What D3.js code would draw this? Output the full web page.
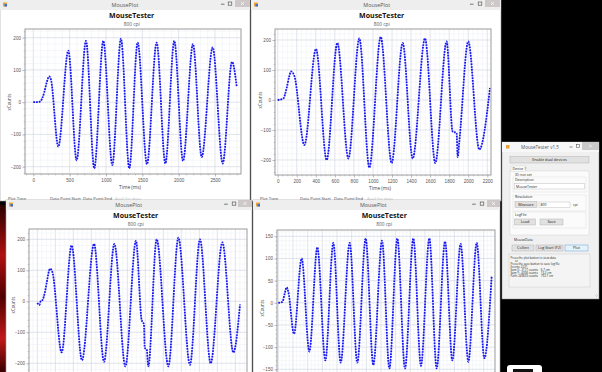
<!DOCTYPE html>
<html><head><meta charset="utf-8">
<script src="https://cdn.jsdelivr.net/npm/d3@7"></script>
<style>
html,body{margin:0;padding:0;background:#000;overflow:hidden}
svg{display:block;font-family:"Open Sans","DejaVu Sans",sans-serif}
</style></head><body>
<svg id="c" width="602" height="372"></svg>
<script>
// ---------- data ----------
const windowTitle = "MousePlot";
const chartTitle = "MouseTester";
const chartSubtitle = "800 cpi";
const xAxisTitle = "Time (ms)";
const yAxisTitle = "xCounts";

const plot1Time   = [0,46,92,150,183,220,243,344,482,596,725,839,963,1087,1206,1321,1436,1564,1697,1817,1940,2060,2197,2317,2468,2606,2734,2798];
const plot1Counts = [0,0,2,30,60,80,70,-138,160,-180,190,-205,190,-195,197,-205,185,-192,185,-190,190,-182,180,-170,170,-190,125,50];
const plot1XTicks = [0,500,1000,1500,2000,2500];
const plot1YTicks = [-200,-100,0,100,200];

const plot2Time   = [0,59,94,122,140,175,280,402,514,626,742,857,962,1081,1196,1312,1417,1546,1654,1773,1836,1878,1889,1906,2000,2116,2228];
const plot2Counts = [0,5,40,80,95,80,-150,170,-200,190,-195,205,-225,210,-210,190,-195,205,-210,195,-105,-110,-190,-140,195,-165,40];
const plot2XTicks = [0,200,400,600,800,1000,1200,1400,1600,1800,2000,2200];
const plot2YTicks = [-200,-100,0,100,200];

const plot3Time   = [0,22,37,59,85,104,141,167,270,381,496,630,741,856,978,1096,1159,1185,1193,1215,1233,1326,1456,1567,1696,1807,1926,2056,2178,2252];
const plot3Counts = [-5,-12,0,5,30,60,105,95,-165,180,-190,185,-195,185,-210,195,-60,-75,-150,-155,-210,200,-210,205,-205,200,-200,190,-165,-10];
const plot3YTicks = [-200,-100,0,100,200];

const plot4Time   = [0,55,86,114,136,214,318,423,532,641,750,850,973,1077,1191,1295,1414,1514,1623,1727,1841,1945,2059,2159,2273,2373,2486,2591,2705,2809,2909];
const plot4Counts = [0,2,20,35,25,-70,100,-110,125,-130,135,-135,135,-135,145,-140,140,-148,145,-148,145,-142,145,-148,138,-130,133,-133,135,-125,60];
const plot4YTicks = [-150,-100,-50,0,50,100,150];

const bottomLabels = ["Plot Type","Data Point Start","Data Point End","Avail for data"];
const logLines = ["Press the plot button to view data","      or","Press the save button to save log file","Events: 2221","Sum X: -2117 counts    6.7 cm","Sum Y: -4094 counts    13.2 cm","Path: 249605 counts    792.7 cm"];

// ---------- drawing ----------
const svg = d3.select("#c");
const defs = svg.append("defs");

// wallpaper at the left edge
const wg = defs.append("linearGradient").attr("id","wall").attr("x1",0).attr("y1",0).attr("x2",0).attr("y2",1);
wg.append("stop").attr("offset","0%").attr("stop-color","#2a0000");
wg.append("stop").attr("offset","30%").attr("stop-color","#b01010");
wg.append("stop").attr("offset","55%").attr("stop-color","#500000");
wg.append("stop").attr("offset","80%").attr("stop-color","#c01818");
wg.append("stop").attr("offset","100%").attr("stop-color","#3a0000");
svg.append("rect").attr("x",0).attr("y",205).attr("width",8).attr("height",167).attr("fill","url(#wall)");

function drawWindow(x, y, w, h, opts) {
  const g = svg.append("g");
  g.append("rect").attr("x",x).attr("y",y).attr("width",w).attr("height",h)
    .attr("fill","#fff").attr("stroke","#9a9a9a").attr("stroke-width",0.6);
  g.append("rect").attr("x",x).attr("y",y).attr("width",w).attr("height",10).attr("fill","#eeeeee");
  g.append("rect").attr("x",x+3).attr("y",y+2.5).attr("width",4).attr("height",4).attr("fill","#e8a33a");
  g.append("rect").attr("x",x+4.5).attr("y",y+4).attr("width",2.5).attr("height",2.5).attr("fill","#3a6fd8");
  g.append("text").attr("x",opts.titleX).attr("y",y+6.8).attr("text-anchor","middle")
    .attr("font-size",5.4).attr("fill","#555").text(windowTitle);
  g.append("line").attr("x1",opts.minX-1.8).attr("x2",opts.minX+1.8).attr("y1",y+4.2).attr("y2",y+4.2).attr("stroke","#444").attr("stroke-width",0.7);
  g.append("rect").attr("x",opts.maxX-1.8).attr("y",y+2).attr("width",3.6).attr("height",3.2).attr("fill","none").attr("stroke","#444").attr("stroke-width",0.6);
  g.append("rect").attr("x",opts.closeX).attr("y",y).attr("width",opts.closeW).attr("height",7).attr("fill","#cdc7c7");
  const cx = opts.closeX + opts.closeW/2, cy = y+3.5;
  g.append("path").attr("d",`M${cx-1.6},${cy-1.6}L${cx+1.6},${cy+1.6}M${cx+1.6},${cy-1.6}L${cx-1.6},${cy+1.6}`).attr("stroke","#fff").attr("stroke-width",0.7);
  g.append("text").attr("x",opts.chartX).attr("y",y+18.4).attr("text-anchor","middle")
    .attr("font-size",7).attr("font-weight",700).attr("fill","#111").text(chartTitle);
  g.append("text").attr("x",opts.chartX).attr("y",y+25.8).attr("text-anchor","middle")
    .attr("font-size",4.8).attr("fill","#555").text(chartSubtitle);
  return g;
}

function drawBottomStrip(xs, y) {
  bottomLabels.forEach((t,i) => {
    svg.append("text").attr("x",xs[i]).attr("y",y).attr("font-size",4.2)
      .attr("fill", i===3 ? "#c8c8c8" : "#444").text(t);
  });
}

function drawPlot(p) {
  const g = svg.append("g");
  const x = d3.scaleLinear().domain(p.xDom).range(p.xRng);
  const y = d3.scaleLinear().domain(p.yDom).range(p.yRng);
  const clipId = "clip" + p.id;
  defs.append("clipPath").attr("id",clipId).append("rect")
    .attr("x",p.fx0).attr("y",p.fy0).attr("width",p.fx1-p.fx0).attr("height",p.fy1-p.fy0);
  g.append("rect").attr("x",p.fx0).attr("y",p.fy0).attr("width",p.fx1-p.fx0).attr("height",p.fy1-p.fy0).attr("fill","#fff");

  const tMin = x.invert(p.fx0), tMax = x.invert(p.fx1);
  const vMin = y.invert(p.fy1), vMax = y.invert(p.fy0);
  const minorX = d3.range(Math.ceil(tMin/p.xMinor)*p.xMinor, tMax, p.xMinor);
  const minorY = d3.range(Math.ceil(vMin/p.yMinor)*p.yMinor, vMax, p.yMinor);
  const grid = g.append("g").attr("clip-path",`url(#${clipId})`);
  const isMaj = (v, step) => Math.abs(v/step - Math.round(v/step)) < 1e-6;
  grid.selectAll(".gx").data(minorX).join("line")
    .attr("x1",d=>x(d)).attr("x2",d=>x(d)).attr("y1",p.fy0).attr("y2",p.fy1)
    .attr("stroke",d=>isMaj(d,p.xMajor)?"#d3d8e4":"#eceef5").attr("stroke-width",d=>isMaj(d,p.xMajor)?0.7:0.5);
  grid.selectAll(".gy").data(minorY).join("line")
    .attr("y1",d=>y(d)).attr("y2",d=>y(d)).attr("x1",p.fx0).attr("x2",p.fx1)
    .attr("stroke",d=>isMaj(d,p.yMajor)?"#d3d8e4":"#eceef5").attr("stroke-width",d=>isMaj(d,p.yMajor)?0.7:0.5);

  const styleAxis = sel => {
    sel.select(".domain").remove();
    sel.selectAll("line").attr("stroke","#888").attr("stroke-width",0.5);
    sel.selectAll("text").attr("font-size",4.6).attr("fill","#555").attr("font-family",null);
  };
  g.append("g").attr("transform",`translate(${p.fx0},0)`)
    .call(d3.axisLeft(y).tickValues(minorY).tickSize(1.3).tickFormat("")).call(styleAxis);
  g.append("g").attr("transform",`translate(${p.fx0},0)`)
    .call(d3.axisLeft(y).tickValues(p.yTicks).tickSize(2.6).tickPadding(1.4).tickFormat(d3.format("d"))).call(styleAxis);
  if (p.xTicks) {
    g.append("g").attr("transform",`translate(0,${p.fy1})`)
      .call(d3.axisBottom(x).tickValues(minorX).tickSize(1.3).tickFormat("")).call(styleAxis);
    g.append("g").attr("transform",`translate(0,${p.fy1})`)
      .call(d3.axisBottom(x).tickValues(p.xTicks).tickSize(2.6).tickPadding(2.2).tickFormat(d3.format("d"))).call(styleAxis);
    g.append("text").attr("x",p.xTitleX).attr("y",p.xTitleY).attr("text-anchor","middle")
      .attr("font-size",4.8).attr("fill","#444").text(xAxisTitle);
  }
  g.append("text").attr("transform",`translate(${p.yTitleX},${p.yTitleY}) rotate(-90)`)
    .attr("text-anchor","middle").attr("font-size",4.4).attr("fill","#444").text(yAxisTitle);

  const pts = d3.zip(p.time, p.counts);
  const line = d3.line().x(d=>x(d[0])).y(d=>y(d[1])).curve(d3.curveMonotoneX);
  const dg = g.append("g").attr("clip-path",`url(#${clipId})`);
  dg.append("path").attr("d",line(pts)).attr("fill","none").attr("stroke","#8c8cff").attr("stroke-width",0.6);
  dg.append("path").attr("d",line(pts)).attr("fill","none").attr("stroke","#1414f0")
    .attr("stroke-width",1.8).attr("stroke-dasharray","1.7,1.1");

  g.append("rect").attr("x",p.fx0).attr("y",p.fy0).attr("width",p.fx1-p.fx0).attr("height",p.fy1-p.fy0)
    .attr("fill","none").attr("stroke","#a4a4a4").attr("stroke-width",1.1);
}

// Window 1 (top-left)
drawWindow(0, 0, 250, 201, {titleX:125, minX:222.7, maxX:230, closeX:235, closeW:15, chartX:131.7});
drawPlot({id:1, fx0:25, fx1:241, fy0:29, fy1:174,
  xDom:[0,2500], xRng:[33.3,215], yDom:[-200,200], yRng:[166.7,37.7],
  xMajor:500, xMinor:100, yMajor:100, yMinor:20,
  xTicks:plot1XTicks, yTicks:plot1YTicks, time:plot1Time, counts:plot1Counts,
  xTitleX:130, xTitleY:189.2, yTitleX:11.2, yTitleY:102});
drawBottomStrip([8,50,83,115], 200);

// Window 2 (top-right)
drawWindow(251, 0, 250, 201, {titleX:376.7, minX:471.7, maxX:480, closeX:485, closeW:15, chartX:381.7});
drawPlot({id:2, fx0:275, fx1:491, fy0:29, fy1:175,
  xDom:[0,2200], xRng:[277.7,487.3], yDom:[-200,200], yRng:[160,40],
  xMajor:200, xMinor:50, yMajor:100, yMinor:20,
  xTicks:plot2XTicks, yTicks:plot2YTicks, time:plot2Time, counts:plot2Counts,
  xTitleX:380, xTitleY:189.5, yTitleX:261.5, yTitleY:100});
drawBottomStrip([260,300,334,367], 200);

// Window 3 (bottom-left)
drawWindow(6, 200, 246, 175, {titleX:128.7, minX:226, maxX:234, closeX:238, closeW:14, chartX:135.7});
drawPlot({id:3, fx0:29, fx1:247, fy0:229, fy1:420,
  xDom:[0,2000], xRng:[37.33,217.33], yDom:[-200,200], yRng:[363.3,239.3],
  xMajor:200, xMinor:50, yMajor:100, yMinor:20,
  xTicks:null, yTicks:plot3YTicks, time:plot3Time, counts:plot3Counts,
  yTitleX:14.5, yTitleY:305});

// Window 4 (bottom-right)
drawWindow(253, 200, 247, 175, {titleX:373.3, minX:474, maxX:482, closeX:487, closeW:13, chartX:384.3});
drawPlot({id:4, fx0:277, fx1:495, fy0:230, fy1:420,
  xDom:[0,2000], xRng:[278.33,425], yDom:[-150,150], yRng:[369.3,236.3],
  xMajor:200, xMinor:50, yMajor:50, yMinor:10,
  xTicks:null, yTicks:plot4YTicks, time:plot4Time, counts:plot4Counts,
  yTitleX:264, yTitleY:308});

// ---------- MouseTester panel ----------
const P = svg.append("g");
function btn(x,y,w,h,label,hl){
  P.append("rect").attr("x",x).attr("y",y).attr("width",w).attr("height",h)
    .attr("fill",hl?"#e5f1fb":"#e1e1e1").attr("stroke",hl?"#5b9bd8":"#adadad").attr("stroke-width",0.45);
  P.append("text").attr("x",x+w/2).attr("y",y+h/2+1.3).attr("text-anchor","middle").attr("font-size",3.8).attr("fill","#222").text(label);
}
function txt(x,y,s,size,col){ P.append("text").attr("x",x).attr("y",y).attr("font-size",size||3.7).attr("fill",col||"#222").style("white-space","pre").text(s); }
function box(x,y,w,h,fill,stroke){ P.append("rect").attr("x",x).attr("y",y).attr("width",w).attr("height",h).attr("fill",fill||"none").attr("stroke",stroke||"#d5d5d5").attr("stroke-width",0.45); }

P.append("rect").attr("x",502).attr("y",142).attr("width",97).attr("height",157).attr("fill","#f0f0f0").attr("stroke","#8a8a8a").attr("stroke-width",0.5);
P.append("rect").attr("x",502).attr("y",142).attr("width",97).attr("height",10).attr("fill","#f7f7f7");
P.append("rect").attr("x",506).attr("y",145).attr("width",3.5).attr("height",3.5).attr("fill","#e8a33a");
P.append("text").attr("x",540).attr("y",149).attr("text-anchor","middle").attr("font-size",4.6).attr("fill","#555").text("MouseTester v1.5");
P.append("line").attr("x1",569.5).attr("x2",572.5).attr("y1",147).attr("y2",147).attr("stroke","#444").attr("stroke-width",0.6);
P.append("rect").attr("x",576.5).attr("y",144.6).attr("width",3).attr("height",2.8).attr("fill","none").attr("stroke","#444").attr("stroke-width",0.5);
P.append("rect").attr("x",582).attr("y",142).attr("width",17).attr("height",8).attr("fill","#c9c9c9");
P.append("path").attr("d","M589,144.5L592,147.5M592,144.5L589,147.5").attr("stroke","#fff").attr("stroke-width",0.6);

btn(510,156.5,79,6.5,"Enable dual devices");
box(510,171,79,64,"#fbfbfb","#d0d0d0");
P.append("rect").attr("x",511).attr("y",166).attr("width",15).attr("height",5.5).attr("fill","#fbfbfb").attr("stroke","#d0d0d0").attr("stroke-width",0.45);
txt(512.5,170,"Device 1",3.5);
txt(515,175.5,"ID: not set",3.5);
box(513,177,73,15,"none","#dcdcdc");
txt(515,180.5,"Description",3.5);
box(514.5,183.5,70,5.5,"#fff","#b8b8b8");
txt(516,187.6,"MouseTester",3.5);
box(513,195,73,16,"none","#dcdcdc");
txt(515,198.3,"Resolution",3.5);
btn(515,201.5,22,6,"Measure");
box(539,202,31,5.5,"#fff","#b8b8b8");
txt(540.5,206,"800",3.5);
txt(573,206,"cpi",3.5);
box(513,212,73,16,"none","#dcdcdc");
txt(515,215.5,"LogFile",3.5);
btn(514.5,219,21,6,"Load");
btn(540,219,23,6,"Save");
txt(514,241,"MouseData",3.5);
btn(512,245,22,6,"Collect");
btn(536,245,27,6,"Log Start (F2)");
btn(565,245,23,6,"Plot",true);
box(509,254,81,33,"#f4f4f4","#c8c8c8");
logLines.forEach((s,i)=>txt(510.5,258.8+i*3.0,s,2.9));
P.append("path").attr("d","M595,296L597,294M596,297L598,295").attr("stroke","#aaa").attr("stroke-width",0.4);

// taskbar-like element at bottom right
svg.append("rect").attr("x",507).attr("y",365).attr("width",35).attr("height",12).attr("rx",3).attr("fill","#fff");
svg.append("rect").attr("x",513).attr("y",369).attr("width",20).attr("height",5).attr("fill","#111");
</script>
</body></html>
